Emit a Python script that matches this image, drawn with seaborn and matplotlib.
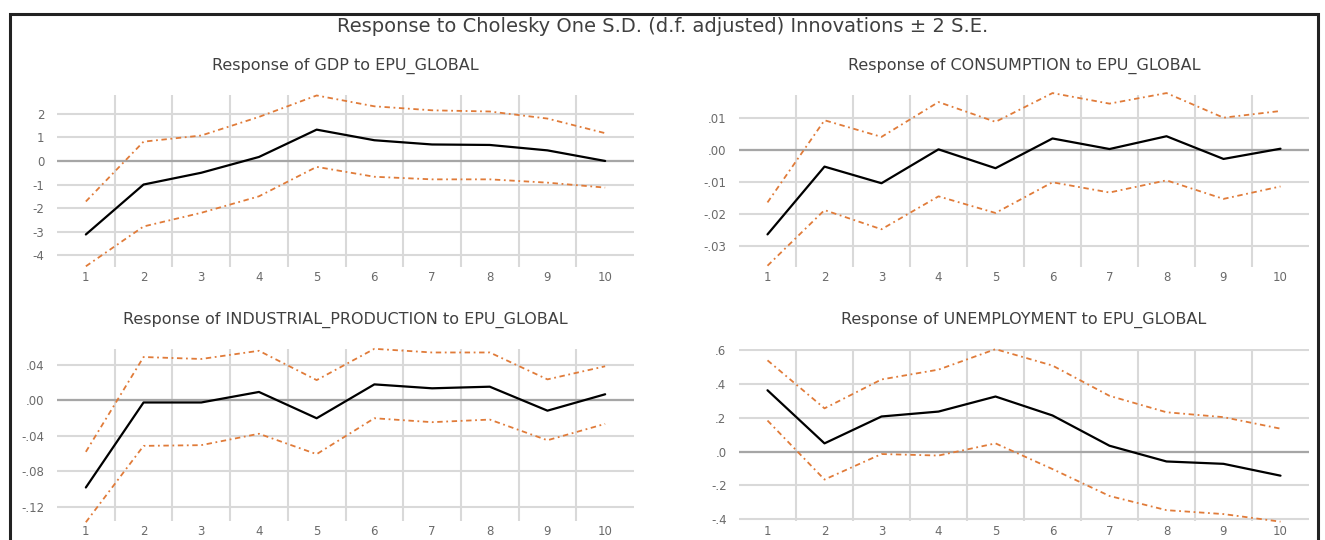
"""
Impulse responses to EPU_GLOBAL shock, +/- 2 S.E. bands
"""

import pandas as pd
import matplotlib
matplotlib.use('Agg')
import matplotlib.pyplot as plt
from matplotlib.patches import Rectangle
from matplotlib.ticker import FixedLocator
import seaborn as sns

sns.set_style("white")
plt.rcParams['font.family'] = ['DejaVu Sans']

horizon = list(range(1, 11))

# GDP
gdp_resp = [-3.12, -1.00, -0.50, 0.17, 1.33, 0.88, 0.70, 0.68, 0.45, 0.00]
gdp_upper = [-1.72, 0.82, 1.08, 1.87, 2.78, 2.32, 2.15, 2.10, 1.80, 1.18]
gdp_lower = [-4.47, -2.78, -2.20, -1.50, -0.25, -0.67, -0.78, -0.78, -0.92, -1.13]
gdp_yticks = [-4, -3, -2, -1, 0, 1, 2]
gdp_yticklabels = ["-4", "-3", "-2", "-1", "0", "1", "2"]

# Consumption
cons_resp = [-0.0264, -0.0052, -0.0104, 0.0002, -0.0057, 0.0036, 0.0003, 0.0043, -0.0028, 0.0004]
cons_upper = [-0.0164, 0.0093, 0.0041, 0.0150, 0.0088, 0.0178, 0.0145, 0.0178, 0.0101, 0.0122]
cons_lower = [-0.0362, -0.0188, -0.0248, -0.0145, -0.0197, -0.0101, -0.0133, -0.0095, -0.0153, -0.0114]
cons_yticks = [-0.03, -0.02, -0.01, 0.0, 0.01]
cons_yticklabels = ["-.03", "-.02", "-.01", ".00", ".01"]

# Industrial production
ip_resp = [-0.098, -0.0026, -0.0026, 0.0092, -0.0203, 0.0177, 0.0133, 0.0151, -0.0118, 0.0066]
ip_upper = [-0.058, 0.0484, 0.0462, 0.0554, 0.0225, 0.0576, 0.0535, 0.0535, 0.0233, 0.0380]
ip_lower = [-0.137, -0.0513, -0.0505, -0.0377, -0.0606, -0.0203, -0.0247, -0.0218, -0.0450, -0.0266]
ip_yticks = [-0.12, -0.08, -0.04, 0.0, 0.04]
ip_yticklabels = ["-.12", "-.08", "-.04", ".00", ".04"]

# Unemployment
unemp_resp = [0.363, 0.049, 0.208, 0.237, 0.326, 0.214, 0.035, -0.058, -0.072, -0.142]
unemp_upper = [0.540, 0.256, 0.427, 0.485, 0.606, 0.509, 0.330, 0.233, 0.204, 0.136]
unemp_lower = [0.184, -0.165, -0.014, -0.023, 0.049, -0.103, -0.262, -0.346, -0.369, -0.414]
unemp_yticks = [-0.4, -0.2, 0.0, 0.2, 0.4, 0.6]
unemp_yticklabels = ["-.4", "-.2", ".0", ".2", ".4", ".6"]

ORANGE = '#E07B39'
GRID = '#D9D9D9'
TEXT = '#6A6A6A'

panels = [
    ("Response of GDP to EPU_GLOBAL", gdp_resp, gdp_upper, gdp_lower,
     gdp_yticks, gdp_yticklabels, (-4.5, 2.8), [57, 95, 634, 267]),
    ("Response of CONSUMPTION to EPU_GLOBAL", cons_resp, cons_upper, cons_lower,
     cons_yticks, cons_yticklabels, (-0.0366, 0.0172), [739, 95, 1309, 267]),
    ("Response of INDUSTRIAL_PRODUCTION to EPU_GLOBAL", ip_resp, ip_upper, ip_lower,
     ip_yticks, ip_yticklabels, (-0.1356, 0.0574), [57, 349, 634, 521]),
    ("Response of UNEMPLOYMENT to EPU_GLOBAL", unemp_resp, unemp_upper, unemp_lower,
     unemp_yticks, unemp_yticklabels, (-0.41, 0.607), [739, 349, 1309, 521]),
]

W, H = 1325, 540
fig = plt.figure(figsize=(W / 100, H / 100), dpi=100)

# outer frame
fig.patches.append(Rectangle((10 / W, -0.05), (1318 - 10) / W, 1.05 - 14 / H,
                             transform=fig.transFigure, fill=False,
                             edgecolor='#222222', linewidth=2.2))

fig.text(0.5, 1 - 27 / H,
         "Response to Cholesky One S.D. (d.f. adjusted) Innovations \u00b1 2 S.E.",
         ha='center', va='center', fontsize=14, color='#404040')

for title, resp, upper, lower, yticks, ylabels, ylim, box in panels:
    x0, y0, x1, y1 = box
    ax = fig.add_axes([x0 / W, 1 - y1 / H, (x1 - x0) / W, (y1 - y0) / H])

    df = pd.DataFrame({'h': horizon, 'resp': resp, 'upper': upper, 'lower': lower})
    sns.lineplot(data=df, x='h', y='upper', ax=ax, color=ORANGE, lw=1.3)
    sns.lineplot(data=df, x='h', y='lower', ax=ax, color=ORANGE, lw=1.3)
    for ln in ax.get_lines():
        ln.set_dashes((3, 2, 1, 2))
    sns.lineplot(data=df, x='h', y='resp', ax=ax, color='black', lw=1.6)
    for ln in ax.get_lines():
        ln.set_clip_on(False)

    ax.axhline(0, color='#A6A6A6', lw=1.6, zorder=1)

    ax.set_xlim(0.5, 10.5)
    ax.set_ylim(*ylim)
    ax.set_xticks(horizon)
    ax.xaxis.set_minor_locator(FixedLocator([h + 0.5 for h in horizon[:-1]]))
    ax.set_yticks(yticks)
    ax.set_yticklabels(ylabels)
    ax.grid(False)
    ax.grid(True, which='minor', axis='x', color=GRID, lw=1.5)
    ax.grid(True, which='major', axis='y', color=GRID, lw=1.5)
    ax.set_axisbelow(True)
    for s in ax.spines.values():
        s.set_visible(False)
    ax.tick_params(axis='both', which='both', length=0, labelsize=8.5, colors=TEXT)
    ax.tick_params(axis='x', pad=3)
    ax.tick_params(axis='y', pad=9)
    ax.set_xlabel('')
    ax.set_ylabel('')
    ax.set_title(title, fontsize=11.5, color='#404040', pad=18)

plt.savefig('out.png', dpi=100)
plt.close()
